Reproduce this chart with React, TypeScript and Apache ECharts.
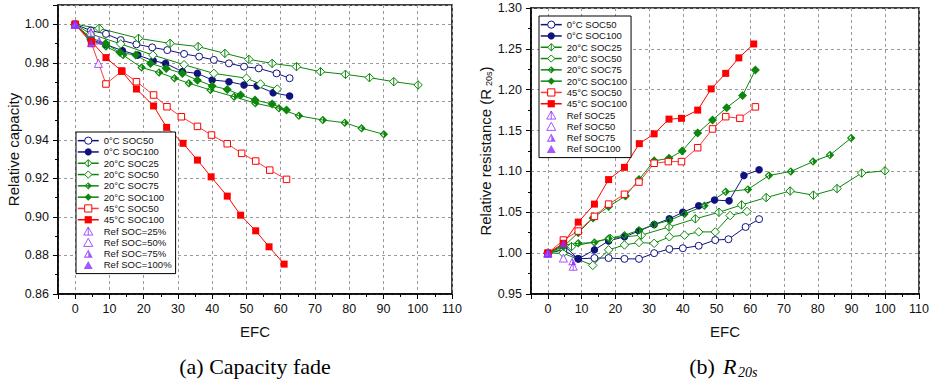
import React, { useEffect, useRef } from 'react';
import * as echarts from 'echarts';

type Pt = [number, number];

// ---------- tick labels ----------
const xTickLabels = [0, 10, 20, 30, 40, 50, 60, 70, 80, 90, 100, 110];
const capTickLabels = [0.86, 0.88, 0.9, 0.92, 0.94, 0.96, 0.98, 1.0];
const resTickLabels = [0.95, 1.0, 1.05, 1.1, 1.15, 1.2, 1.25, 1.3];

// ---------- series names ----------
const seriesNames = ['0°C SOC50', '0°C SOC100', '20°C SOC25', '20°C SOC50', '20°C SOC75', '20°C SOC100', '45°C SOC50', '45°C SOC100'];
const refNamesCap = ['Ref SOC=25%', 'Ref SOC=50%', 'Ref SOC=75%', 'Ref SOC=100%'];
const refNamesRes = ['Ref SOC25', 'Ref SOC50', 'Ref SOC75', 'Ref SOC100'];

// ---------- (a) relative capacity  [EFC, value] ----------
const cap0C50: Pt[] = [[0, 1], [4.6, 0.9967], [9, 0.995], [13.3, 0.9918], [17.9, 0.9896], [22.5, 0.988], [26.9, 0.9866], [31.8, 0.9846], [36.2, 0.9832], [40.5, 0.9815], [44.9, 0.9797], [49.3, 0.978], [53.6, 0.9771], [58.8, 0.9745], [62.6, 0.972]];
const cap0C100: Pt[] = [[0, 1], [4.6, 0.992], [9, 0.9895], [13.8, 0.9863], [18.3, 0.984], [22.8, 0.9811], [26.4, 0.9797], [31.3, 0.9754], [35.7, 0.9745], [40, 0.9711], [44.9, 0.9702], [49.3, 0.9685], [53.1, 0.968], [57.8, 0.9645], [62.6, 0.9628]];
const cap20C25: Pt[] = [[0, 1], [7, 0.9979], [18.5, 0.9927], [27.7, 0.9901], [35.9, 0.9884], [43.7, 0.9849], [50.7, 0.9818], [57.5, 0.9797], [64.6, 0.978], [71.6, 0.9754], [78.9, 0.974], [85.9, 0.9723], [93, 0.9702], [100.1, 0.9685]];
const cap20C50: Pt[] = [[0, 1], [4.5, 0.995], [13.3, 0.9898], [22.7, 0.984], [31.8, 0.979], [40.5, 0.9745], [50, 0.972], [54.1, 0.969], [59, 0.9664]];
const cap20C75: Pt[] = [[0, 1], [4.5, 0.992], [9, 0.9885], [14, 0.984], [19.4, 0.9775], [24.5, 0.975], [29, 0.972], [33.2, 0.9694], [39.5, 0.9659], [46.4, 0.9624], [52.6, 0.959], [59.5, 0.9564], [65.3, 0.9525], [72.3, 0.9503], [78.7, 0.9489], [83.6, 0.946], [90.1, 0.9429]];
const cap20C100: Pt[] = [[0, 1], [4.5, 0.993], [8.9, 0.99], [13.1, 0.9853], [17.7, 0.984], [22, 0.9797], [26.6, 0.9771], [31.3, 0.9745], [35.7, 0.971], [40, 0.968], [44.4, 0.9662], [48.3, 0.9633], [52.5, 0.9607], [57.5, 0.9586], [61.7, 0.9555]];
const cap45C50: Pt[] = [[0, 1], [4.8, 0.99], [9, 0.969], [13.6, 0.9757], [17.9, 0.9702], [22.9, 0.9633], [26.8, 0.9572], [31, 0.952], [35.7, 0.947], [39.8, 0.9425], [44.4, 0.938], [48.6, 0.933], [52.7, 0.929], [56.8, 0.9243], [61.7, 0.9195]];
const cap45C100: Pt[] = [[0, 1], [4.8, 0.991], [9, 0.9827], [13.6, 0.9757], [17.9, 0.9664], [22.9, 0.9576], [26.7, 0.9465], [31.5, 0.9382], [35.7, 0.9295], [39.7, 0.9208], [44.4, 0.9108], [48.3, 0.9009], [52.7, 0.8928], [56.6, 0.8845], [61, 0.8755]];
const capRef25: Pt[] = [[0, 1], [4.6, 0.9957]];
const capRef50: Pt[] = [[0, 1], [6.8, 0.9797]];
const capRef75: Pt[] = [[0, 1], [7, 0.9916]];
const capRef100: Pt[] = [[0, 1], [4.6, 0.9903]];

// ---------- (b) relative resistance R20s  [EFC, value] ----------
const res0C50: Pt[] = [[0, 1], [4.6, 1.004], [9, 0.993], [13.8, 0.994], [18, 0.994], [22.7, 0.993], [27, 0.993], [31.5, 1.0], [36, 1.005], [40, 1.006], [44.7, 1.009], [49.6, 1.016], [53.5, 1.017], [58.6, 1.032], [62.6, 1.0416]];
const res0C100: Pt[] = [[0, 1], [4.6, 1.01], [9, 0.993], [13.8, 1.004], [18, 1.015], [22.7, 1.02], [27, 1.027], [31.5, 1.035], [36, 1.042], [40, 1.05], [44.7, 1.058], [49.4, 1.065], [53.7, 1.064], [58.1, 1.095], [62.6, 1.102]];
const res20C25: Pt[] = [[0, 1], [7, 1.008], [18.5, 1.018], [27.7, 1.022], [35.9, 1.032], [43.7, 1.042], [50.7, 1.05], [57.4, 1.059], [64.7, 1.068], [71.8, 1.076], [78.7, 1.071], [85.7, 1.079], [93, 1.098], [99.9, 1.1007]];
const res20C50: Pt[] = [[0, 1], [4.5, 1.0], [13.3, 0.985], [18, 1.004], [22.7, 1.01], [27, 1.013], [31.5, 1.012], [36, 1.02], [40.5, 1.022], [44.7, 1.026], [49.6, 1.026], [54, 1.046], [59, 1.051]];
const res20C75: Pt[] = [[0, 1], [4.6, 1.01], [9, 1.012], [13.8, 1.013], [18, 1.018], [22.7, 1.022], [27, 1.028], [31.5, 1.035], [36, 1.04], [40.5, 1.048], [46.4, 1.058], [52.7, 1.075], [59.3, 1.078], [65.5, 1.095], [72, 1.1], [78.6, 1.112], [83.6, 1.12], [89.9, 1.141]];
const res20C100: Pt[] = [[0, 1], [4.6, 1.008], [9, 1.025], [13.4, 1.043], [18, 1.057], [23, 1.07], [27, 1.09], [31.5, 1.113], [35.9, 1.116], [39.8, 1.125], [44.4, 1.147], [48.8, 1.163], [53, 1.178], [57.7, 1.193], [61.5, 1.224]];
const res45C50: Pt[] = [[0, 1], [4.6, 1.016], [9, 1.027], [13.8, 1.045], [18, 1.06], [22.7, 1.072], [27, 1.087], [31.5, 1.11], [35.7, 1.112], [39.6, 1.112], [44.4, 1.129], [48.8, 1.152], [52.7, 1.167], [56.9, 1.165], [61.5, 1.179]];
const res45C100: Pt[] = [[0, 1], [4.6, 1.012], [9, 1.038], [13.8, 1.06], [18, 1.09], [22.7, 1.105], [27.1, 1.134], [31.5, 1.146], [35.9, 1.164], [39.6, 1.165], [44.4, 1.175], [48.4, 1.201], [52.7, 1.22], [56.6, 1.239], [61, 1.256]];
const resRef25: Pt[] = [[0, 1], [7.5, 0.984]];
const resRef50: Pt[] = [[0, 1], [4.6, 0.994]];
const resRef75: Pt[] = [[0, 1], [7.2, 0.99]];
const resRef100: Pt[] = [[0, 1], [4.6, 1.012]];

// ---------- styles ----------
const FONT = '"Liberation Sans", Arial, sans-serif';
const SERIF = '"Liberation Serif", "DejaVu Serif", serif';
const NAVY = '#12127f';
const GREEN = '#0b870b';
const RED = '#ff0000';
const RED_L = '#ff3838';
const PURPLE = '#8f2cff';

const S_OPEN_CIRCLE = 'path://M0 5A5 5 0 1 0 10 5A5 5 0 1 0 0 5Z';
const S_OPEN_DIAMOND = 'path://M5 0L10 5L5 10L0 5Z';
const S_BAR_DIAMOND = 'path://M5 0L10 5L5 10L0 5ZM5 0L5 10';
const S_HALF_DIAMOND = 'path://M5 0L10 5L5 10L0 5ZM5 1.9L1.9 5L5 8.1L8.1 5ZM5 1.9L8.1 5L5 8.1Z';
const S_OPEN_SQUARE = 'path://M0 0L10 0L10 10L0 10Z';
const TRI_BAR = 'M5 0L10 9L0 9ZM5 0L5 9';
const TRI_OPEN = 'M5 0L10 9L0 9Z';
const TRI_HALF = 'M5 0L10 9L0 9ZM5 2.5L1.9 7.7L8.1 7.7ZM5 2.5L8.1 7.7L5 7.7Z';
// legend icons: same triangles, padded sideways so they keep their size in the 21px icon box
const LEG_PAD = 'M-5.5 -0.5M15.5 9.5';

type Sty = { color: string; line: string; symbol: string; size: number; open: boolean; legendIcon?: string };
const lineStyles: Sty[] = [
  { color: NAVY, line: NAVY, symbol: S_OPEN_CIRCLE, size: 7, open: true },
  { color: NAVY, line: NAVY, symbol: 'circle', size: 7.5, open: false },
  { color: GREEN, line: GREEN, symbol: S_BAR_DIAMOND, size: 8.5, open: true },
  { color: GREEN, line: GREEN, symbol: S_OPEN_DIAMOND, size: 8.5, open: true },
  { color: GREEN, line: GREEN, symbol: S_HALF_DIAMOND, size: 8.5, open: false },
  { color: GREEN, line: GREEN, symbol: 'diamond', size: 9, open: false },
  { color: RED, line: RED_L, symbol: S_OPEN_SQUARE, size: 6.5, open: true },
  { color: RED, line: RED, symbol: 'rect', size: 7, open: false },
];
const refStyles: Sty[] = [
  { color: PURPLE, line: PURPLE, symbol: 'path://' + TRI_BAR, size: 8, open: true, legendIcon: 'path://' + LEG_PAD + TRI_BAR },
  { color: PURPLE, line: PURPLE, symbol: 'path://' + TRI_OPEN, size: 8, open: true, legendIcon: 'path://' + LEG_PAD + TRI_OPEN },
  { color: PURPLE, line: PURPLE, symbol: 'path://' + TRI_HALF, size: 8, open: false, legendIcon: 'path://' + LEG_PAD + TRI_HALF },
  { color: PURPLE, line: PURPLE, symbol: 'triangle', size: 8, open: false, legendIcon: 'path://' + LEG_PAD + TRI_OPEN },
];

const capSeriesData = [cap0C50, cap0C100, cap20C25, cap20C50, cap20C75, cap20C100, cap45C50, cap45C100];
const resSeriesData = [res0C50, res0C100, res20C25, res20C50, res20C75, res20C100, res45C50, res45C100];
const capRefData = [capRef25, capRef50, capRef75, capRef100];
const resRefData = [resRef25, resRef50, resRef75, resRef100];

function itemStyleOf(s: Sty) {
  return s.open
    ? { color: '#ffffff', borderColor: s.color, borderWidth: 1 }
    : { color: s.color, borderWidth: 0 };
}

function makeLine(name: string, data: Pt[], s: Sty, gi: number) {
  return {
    type: 'line', name, data, xAxisIndex: gi, yAxisIndex: gi,
    symbol: s.symbol, symbolSize: s.size, showSymbol: true,
    lineStyle: { color: s.line, width: 1 },
    itemStyle: itemStyleOf(s),
    emphasis: { disabled: true },
    z: 3,
  };
}
function makeRef(name: string, data: Pt[], s: Sty, gi: number) {
  return {
    type: 'scatter', name, data, xAxisIndex: gi, yAxisIndex: gi,
    symbol: s.symbol, symbolSize: s.size,
    itemStyle: itemStyleOf(s),
    emphasis: { disabled: true },
    z: 4,
  };
}

const gridLine = { show: true, lineStyle: { color: '#9a9a9a', width: 1, type: [3, 3] } };

function makeX(gi: number) {
  return {
    type: 'value', gridIndex: gi, min: -5, max: 110, splitNumber: 11,
    name: 'EFC', nameLocation: 'middle', nameGap: 30,
    nameTextStyle: { fontSize: 15, fontFamily: FONT, color: '#111' },
    axisLine: { show: true, onZero: false, lineStyle: { color: '#000', width: 1.5 } },
    axisTick: { show: true, length: 5, lineStyle: { color: '#000', width: 1 } },
    minorTick: { show: true, splitNumber: 2, length: 3, lineStyle: { color: '#000', width: 1 } },
    axisLabel: {
      fontSize: 12.5, fontFamily: FONT, color: '#111', margin: 8,
      formatter: (v: number) => (xTickLabels.includes(Math.round(v)) && v >= 0 ? String(Math.round(v)) : ''),
    },
    splitLine: gridLine,
  };
}

function makeY(gi: number, min: number, max: number, interval: number, labels: number[], name: any, rich?: any, nameGap = 35) {
  return {
    type: 'value', gridIndex: gi, min, max, interval,
    name, nameLocation: 'middle', nameGap, nameRotate: 90,
    nameTextStyle: { fontSize: 15, fontFamily: FONT, color: '#111', rich },
    axisLine: { show: true, onZero: false, lineStyle: { color: '#000', width: 1.5 } },
    axisTick: { show: true, length: 5, lineStyle: { color: '#000', width: 1 } },
    minorTick: { show: true, splitNumber: 2, length: 3, lineStyle: { color: '#000', width: 1 } },
    axisLabel: {
      fontSize: 12.5, fontFamily: FONT, color: '#111', margin: 9,
      formatter: (v: number) => (labels.some((l) => Math.abs(l - v) < 1e-6) ? v.toFixed(2) : ''),
    },
    splitLine: gridLine,
  };
}

function makeLegend(names: string[], refNames: string[], left: number, top: number) {
  const data: any[] = [
    ...names.map((n) => ({ name: n })),
    ...refNames.map((n, i) => ({ name: n, icon: refStyles[i].legendIcon })),
  ];
  return {
    orient: 'vertical', left, top, data,
    backgroundColor: '#ffffff', borderColor: '#000', borderWidth: 1,
    padding: [3, 4, 3, 1], itemGap: 0, itemWidth: 21, itemHeight: 9,
    selectedMode: false,
    itemStyle: { borderWidth: 1 },
    lineStyle: { width: 1.5 },
    textStyle: { fontSize: 9.5, fontFamily: FONT, color: '#111', lineHeight: 11.3 },
  };
}

export default function App() {
  const ref = useRef<HTMLDivElement>(null);
  useEffect(() => {
    document.body.style.margin = '0';
    const chart = echarts.init(ref.current!, null, { renderer: 'svg' });
    const series: any[] = [];
    seriesNames.forEach((n, i) => series.push(makeLine(n, capSeriesData[i], lineStyles[i], 0)));
    refNamesCap.forEach((n, i) => series.push(makeRef(n, capRefData[i], refStyles[i], 0)));
    seriesNames.forEach((n, i) => series.push(makeLine(n, resSeriesData[i], lineStyles[i], 1)));
    refNamesRes.forEach((n, i) => series.push(makeRef(n, resRefData[i], refStyles[i], 1)));

    const option: any = {
      animation: false,
      backgroundColor: '#ffffff',
      grid: [
        { left: 58, right: 480, top: 5, bottom: 86, show: true, borderColor: '#000', borderWidth: 1.5 },
        { left: 531, right: 8, top: 8, bottom: 86, show: true, borderColor: '#000', borderWidth: 1.5 },
      ],
      xAxis: [makeX(0), makeX(1)],
      yAxis: [
        makeY(0, 0.86, 1.01, 0.02, capTickLabels, 'Relative capacity', undefined, 36),
        makeY(1, 0.95, 1.3, 0.05, resTickLabels, '{a|Relative resistance (R}{s|20s}{a|)}', {
          a: { fontSize: 15, fontFamily: FONT, color: '#111', lineHeight: 20, verticalAlign: 'bottom' },
          s: { fontSize: 9, fontFamily: FONT, color: '#111', lineHeight: 20, verticalAlign: 'bottom', padding: [0, 0, 0, 3] },
        }, 38),
      ],
      legend: [
        makeLegend(seriesNames, refNamesCap, 76, 132),
        makeLegend(seriesNames, refNamesRes, 539, 16),
      ],
      series,
      graphic: [
        { type: 'text', x: 255, y: 366, style: { text: '(a) Capacity fade', fontSize: 22, fontFamily: SERIF, fill: '#000', align: 'center', verticalAlign: 'middle' } },
        { type: 'text', x: 702, y: 366, style: { text: '(b)', fontSize: 22, fontFamily: SERIF, fill: '#000', align: 'center', verticalAlign: 'middle' } },
        { type: 'text', x: 723, y: 366, style: { text: 'R', fontSize: 22, fontStyle: 'italic', fontFamily: SERIF, fill: '#000', align: 'left', verticalAlign: 'middle' } },
        { type: 'text', x: 738, y: 372, style: { text: '20s', fontSize: 14, fontStyle: 'italic', fontFamily: SERIF, fill: '#000', align: 'left', verticalAlign: 'middle' } },
      ],
    };
    chart.setOption(option);
    return () => chart.dispose();
  }, []);
  return <div ref={ref} style={{ width: 932, height: 380 }} />;
}
